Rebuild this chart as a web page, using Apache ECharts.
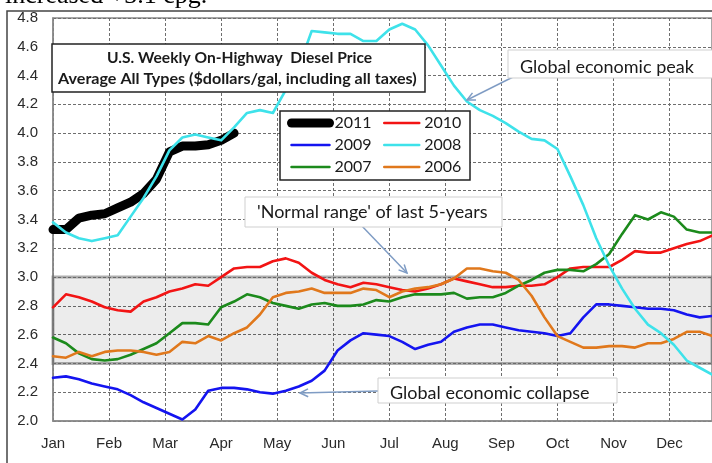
<!DOCTYPE html>
<html>
<head>
<meta charset="utf-8">
<script src="https://cdn.jsdelivr.net/npm/echarts@6/dist/echarts.min.js"></script>
<style>
html, body { margin: 0; padding: 0; background: #fff; }
#chart { width: 712px; height: 463px; }
</style>
</head>
<body>
<div id="chart"></div>
<script>
// month tick labels, one tick every 52/12 weeks
var months = ['Jan', 'Feb', 'Mar', 'Apr', 'May', 'Jun', 'Jul', 'Aug', 'Sep', 'Oct', 'Nov', 'Dec'];
var weeksPerMonth = 52 / 12;

// weekly diesel price, $/gal (index = week of year)
var y2011 = [3.33, 3.33, 3.41, 3.43, 3.44, 3.48, 3.52, 3.58, 3.68, 3.87, 3.91, 3.91, 3.92, 3.95, 4.00];
var y2010 = [2.79, 2.88, 2.86, 2.83, 2.79, 2.77, 2.76, 2.83, 2.86, 2.90, 2.92, 2.95, 2.94, 3.00, 3.06, 3.07,
  3.07, 3.11, 3.13, 3.10, 3.03, 2.98, 2.95, 2.93, 2.96, 2.95, 2.93, 2.91, 2.90, 2.92, 2.95, 2.99,
  2.97, 2.95, 2.93, 2.93, 2.94, 2.94, 2.95, 3.00, 3.06, 3.07, 3.07, 3.07, 3.12, 3.18, 3.17, 3.17,
  3.20, 3.23, 3.25, 3.29];
var y2009 = [2.30, 2.31, 2.29, 2.26, 2.24, 2.22, 2.18, 2.13, 2.09, 2.05, 2.01, 2.08, 2.21, 2.23, 2.23, 2.22,
  2.20, 2.19, 2.21, 2.24, 2.28, 2.35, 2.49, 2.56, 2.61, 2.60, 2.59, 2.55, 2.50, 2.53, 2.55, 2.62,
  2.65, 2.67, 2.67, 2.65, 2.63, 2.62, 2.61, 2.59, 2.61, 2.72, 2.81, 2.81, 2.80, 2.79, 2.78, 2.78,
  2.77, 2.74, 2.72, 2.73];
var y2008 = [3.38, 3.31, 3.27, 3.25, 3.27, 3.29, 3.42, 3.55, 3.70, 3.88, 3.97, 3.99, 3.97, 3.95, 4.04, 4.14,
  4.16, 4.14, 4.30, 4.46, 4.71, 4.70, 4.69, 4.69, 4.64, 4.64, 4.72, 4.76, 4.72, 4.61, 4.47, 4.33,
  4.22, 4.16, 4.12, 4.07, 4.01, 3.96, 3.95, 3.89, 3.70, 3.50, 3.27, 3.08, 2.92, 2.78, 2.67, 2.61,
  2.53, 2.42, 2.37, 2.32];
var y2007 = [2.58, 2.54, 2.47, 2.43, 2.42, 2.43, 2.46, 2.50, 2.54, 2.61, 2.68, 2.68, 2.67, 2.79, 2.83, 2.88,
  2.86, 2.82, 2.80, 2.78, 2.81, 2.82, 2.80, 2.80, 2.81, 2.84, 2.83, 2.86, 2.88, 2.88, 2.88, 2.89,
  2.85, 2.86, 2.86, 2.89, 2.94, 2.98, 3.03, 3.05, 3.05, 3.04, 3.09, 3.16, 3.30, 3.43, 3.40, 3.45,
  3.42, 3.33, 3.31, 3.31];
var y2006 = [2.45, 2.44, 2.48, 2.45, 2.48, 2.49, 2.49, 2.48, 2.46, 2.48, 2.55, 2.54, 2.59, 2.56, 2.61, 2.65,
  2.74, 2.86, 2.89, 2.90, 2.92, 2.89, 2.89, 2.89, 2.92, 2.91, 2.86, 2.90, 2.92, 2.93, 2.95, 2.99,
  3.06, 3.06, 3.04, 3.03, 2.98, 2.87, 2.72, 2.59, 2.55, 2.51, 2.51, 2.52, 2.52, 2.51, 2.54, 2.54,
  2.57, 2.62, 2.62, 2.59];

// shaded 'normal range' band
var normalLow = 2.4;
var normalHigh = 3.0;

function pts(arr) {
  return arr.map(function (v, i) { return [i, v]; });
}

function lineSeries(name, data, color, width, z) {
  return {
    name: name,
    type: 'line',
    data: pts(data),
    symbol: 'none',
    z: z,
    lineStyle: { color: color, width: width, cap: 'round', join: 'round' },
    itemStyle: { color: color }
  };
}

// arrow: shaft plus open head at (x2, y2)
function arrow(x1, y1, x2, y2) {
  var a = Math.atan2(y1 - y2, x1 - x2);
  var len = 9, spread = 0.45;
  var stroke = { stroke: '#7f9cc4', lineWidth: 1.5, fill: null };
  return [
    { type: 'line', z: 9, silent: true, shape: { x1: x1, y1: y1, x2: x2, y2: y2 }, style: stroke },
    { type: 'polyline', z: 9, silent: true, shape: { points: [
      [x2 + len * Math.cos(a + spread), y2 + len * Math.sin(a + spread)],
      [x2, y2],
      [x2 + len * Math.cos(a - spread), y2 + len * Math.sin(a - spread)]
    ] }, style: stroke }
  ];
}

function label(x, y, text, font, sx) {
  return {
    type: 'text', x: x, y: y, z: 12, silent: true, scaleX: sx || 1, originX: 0, originY: 0,
    style: { text: text, font: font, fill: '#1a1a1a', align: 'left', textAlign: 'left', verticalAlign: 'middle', textVerticalAlign: 'middle' }
  };
}

function box(x, y, w, h, stroke, lw) {
  return { type: 'rect', z: 10, silent: true, shape: { x: x, y: y, width: w, height: h }, style: { fill: '#fff', stroke: stroke, lineWidth: lw } };
}

var chart = echarts.init(document.getElementById('chart'));

var legendText = { fontFamily: 'Lato', fontSize: 16, color: '#1a1a1a' };
var noSymbol = { color: 'rgba(0,0,0,0)', borderWidth: 0, opacity: 0 };

chart.setOption({
  animation: false,
  grid: { left: 53, right: -3, top: 18, bottom: 42, show: true, borderColor: '#8a8a8a', borderWidth: 1.5 },
  xAxis: {
    type: 'value',
    min: 0,
    max: 50.95,
    interval: weeksPerMonth,
    axisLine: { show: true, lineStyle: { color: '#8a8a8a', width: 1.5 } },
    axisTick: { show: false },
    axisLabel: {
      margin: 15,
      fontFamily: 'Liberation Sans',
      fontSize: 15,
      color: '#2a2a2a',
      showMaxLabel: false,
      formatter: function (v) { return months[Math.round(v / weeksPerMonth)] || ''; }
    },
    splitLine: { show: true, lineStyle: { color: '#6e6e6e', type: [3, 2], width: 1 } }
  },
  yAxis: {
    type: 'value',
    min: 2.0,
    max: 4.8,
    interval: 0.2,
    axisLine: { show: true, lineStyle: { color: '#8a8a8a', width: 1.5 } },
    axisTick: { show: false },
    axisLabel: {
      margin: 15,
      fontFamily: 'Liberation Sans',
      fontSize: 15,
      color: '#2a2a2a',
      formatter: function (v) { return v.toFixed(1); }
    },
    splitLine: { show: true, lineStyle: { color: '#6e6e6e', type: [3, 2], width: 1 } }
  },
  legend: [
    {
      orient: 'vertical', left: 287, top: 115, padding: 0, itemWidth: 38, itemHeight: 14, itemGap: 6,
      selectedMode: false, z: 11, textStyle: legendText, lineStyle: { width: 2.5 }, itemStyle: noSymbol,
      data: [{ name: '2011', lineStyle: { width: 9, cap: 'round' } }, '2009', '2007']
    },
    {
      orient: 'vertical', left: 383, top: 115, padding: 0, itemWidth: 35, itemHeight: 14, itemGap: 6,
      selectedMode: false, z: 11, textStyle: legendText, lineStyle: { width: 2.5 }, itemStyle: noSymbol,
      data: ['2010', '2008', '2006']
    }
  ],
  series: [
    {
      name: 'band', type: 'line', data: [], z: 1, silent: true,
      markArea: {
        silent: true,
        itemStyle: { color: 'rgba(0,0,0,0.075)', borderColor: 'rgba(110,110,110,0.55)', borderWidth: 3 },
        data: [[{ yAxis: normalLow }, { yAxis: normalHigh }]]
      }
    },
    lineSeries('2011', y2011, '#000000', 9, 3),
    lineSeries('2010', y2010, '#f21414', 2.6, 4),
    lineSeries('2009', y2009, '#1414f0', 2.6, 4),
    lineSeries('2007', y2007, '#1c8a1c', 2.6, 4),
    lineSeries('2006', y2006, '#e0781c', 2.6, 4),
    lineSeries('2008', y2008, '#3ee2ea', 2.6, 5)
  ],
  graphic: [
    { type: 'rect', z: 0, silent: true, shape: { x: 7, y: 11, width: 760, height: 500 }, style: { fill: null, stroke: '#444', lineWidth: 1.5 } },
    { type: 'text', x: 5, y: -4, silent: true, style: { text: 'increased +3.1 cpg.', font: '26px "Liberation Serif"', fill: '#000', verticalAlign: 'middle', textVerticalAlign: 'middle' } },
    box(52, 44, 373, 48, '#222', 1.5),
    label(107, 58.5, 'U.S. Weekly On-Highway  Diesel Price', 'bold 15px Lato', 1.04),
    label(58, 79.5, 'Average All Types ($dollars/gal, including all taxes)', 'bold 15px Lato', 1.075),
    { type: 'rect', z: 10, silent: true, shape: { x: 280, y: 111, width: 190, height: 69 }, style: { fill: '#fff', stroke: '#222', lineWidth: 1.5 } }
  ].concat(
    arrow(517, 75, 467, 100),
    arrow(360, 224, 407, 273),
    arrow(378, 391, 300, 393),
    [
      box(508, 50, 215, 28, '#cfcfcf', 1),
      label(520, 67, 'Global economic peak', '18px Lato'),
      box(245, 197, 257, 30, '#cfcfcf', 1),
      label(257, 212, "'Normal range' of last 5-years", '18px Lato'),
      box(378, 378, 239, 25, '#cfcfcf', 1),
      label(390, 393, 'Global economic collapse', '18px Lato')
    ]
  )
});
</script>
</body>
</html>
